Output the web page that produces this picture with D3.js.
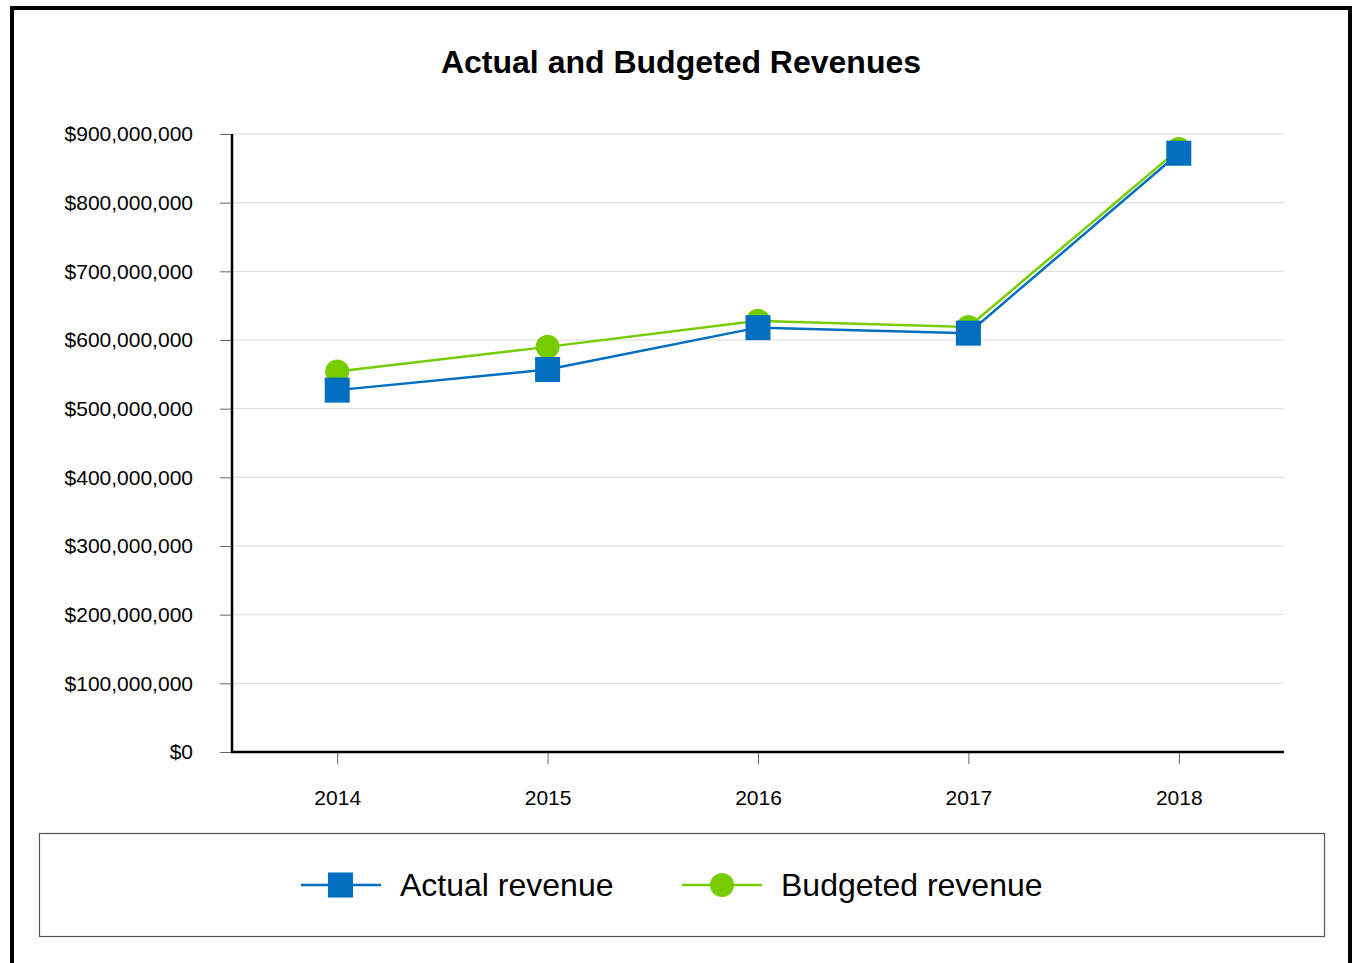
<!DOCTYPE html>
<html>
<head>
<meta charset="utf-8">
<script src="https://cdn.jsdelivr.net/npm/d3@7"></script>
<style>
  body { margin: 0; background: #fff; }
  svg { display: block; font-family: "Liberation Sans", Arial, sans-serif; }
</style>
</head>
<body>
<svg width="1353" height="963"></svg>
<script>
// data
const years = ["2014", "2015", "2016", "2017", "2018"];
const actualRevenue = [527000000, 557000000, 618000000, 610000000, 872000000];
const budgetedRevenue = [554000000, 590000000, 628000000, 619000000, 878000000];
const yTicks = [0, 100000000, 200000000, 300000000, 400000000, 500000000, 600000000, 700000000, 800000000, 900000000];
const seriesNames = ["Actual revenue", "Budgeted revenue"];

const blue = "#006fc0";
const green = "#77cc00";

const svg = d3.select("svg");

// outer frame
svg.append("rect")
    .attr("x", 12).attr("y", 8)
    .attr("width", 1338).attr("height", 980)
    .attr("fill", "none").attr("stroke", "#000").attr("stroke-width", 4);

// title
svg.append("text")
    .attr("x", 681).attr("y", 73)
    .attr("text-anchor", "middle")
    .style("font-size", "32px").style("font-weight", "bold")
    .text("Actual and Budgeted Revenues");

const plotLeft = 232, plotRight = 1284, plotTop = 134, plotBottom = 752;

const x = d3.scalePoint().domain(years).range([plotLeft, plotRight]).padding(0.5);
const y = d3.scaleLinear().domain([0, 900000000]).range([plotBottom, plotTop]);

// gridlines
svg.append("g")
    .selectAll("line")
    .data(yTicks.filter(d => d > 0))
    .join("line")
    .attr("x1", plotLeft).attr("x2", plotRight)
    .attr("y1", d => y(d)).attr("y2", d => y(d))
    .attr("stroke", "#d9d9d9").attr("stroke-width", 1);

// y axis
const fmt = d => "$" + d3.format(",")(d);
const yAxis = svg.append("g")
    .attr("transform", `translate(${plotLeft},0)`)
    .call(d3.axisLeft(y).tickValues(yTicks).tickFormat(fmt).tickSize(12).tickSizeOuter(0));
yAxis.select(".domain").remove();
yAxis.selectAll(".tick line").attr("stroke", "#666");
yAxis.selectAll(".tick text")
    .attr("x", -39)
    .style("font-size", "21px").style("font-family", "'Liberation Sans', Arial, sans-serif")
    .attr("fill", "#000");

// x axis
const xAxis = svg.append("g")
    .attr("transform", `translate(0,${plotBottom})`)
    .call(d3.axisBottom(x).tickSize(12).tickSizeOuter(0));
xAxis.select(".domain").remove();
xAxis.selectAll(".tick line").attr("stroke", "#666");
xAxis.selectAll(".tick text")
    .attr("y", 53).attr("dy", 0)
    .style("font-size", "21px").style("font-family", "'Liberation Sans', Arial, sans-serif")
    .attr("fill", "#000");

// axis lines
svg.append("line")
    .attr("x1", plotLeft).attr("x2", plotLeft).attr("y1", plotTop).attr("y2", plotBottom + 1)
    .attr("stroke", "#000").attr("stroke-width", 2.5);
svg.append("line")
    .attr("x1", plotLeft - 1).attr("x2", plotRight).attr("y1", plotBottom).attr("y2", plotBottom)
    .attr("stroke", "#000").attr("stroke-width", 2.5);

const line = d3.line().x((d, i) => x(years[i])).y(d => y(d));

// budgeted series (drawn first, underneath)
svg.append("path")
    .datum(budgetedRevenue)
    .attr("d", line)
    .attr("fill", "none").attr("stroke", green).attr("stroke-width", 2.5);
svg.append("g").selectAll("circle")
    .data(budgetedRevenue)
    .join("circle")
    .attr("cx", (d, i) => x(years[i])).attr("cy", d => y(d))
    .attr("r", 12).attr("fill", green);

// actual series
svg.append("path")
    .datum(actualRevenue)
    .attr("d", line)
    .attr("fill", "none").attr("stroke", blue).attr("stroke-width", 2.5);
svg.append("g").selectAll("rect")
    .data(actualRevenue)
    .join("rect")
    .attr("x", (d, i) => x(years[i]) - 12.5).attr("y", d => y(d) - 12.5)
    .attr("width", 25).attr("height", 25).attr("fill", blue);

// legend
svg.append("rect")
    .attr("x", 39.5).attr("y", 833.5).attr("width", 1285).attr("height", 103)
    .attr("fill", "none").attr("stroke", "#555").attr("stroke-width", 1.2);

const legend = svg.append("g");
const ly = 885;
// actual
legend.append("line").attr("x1", 301).attr("x2", 381).attr("y1", ly).attr("y2", ly)
    .attr("stroke", blue).attr("stroke-width", 2.5);
legend.append("rect").attr("x", 328).attr("y", ly - 12.5).attr("width", 25).attr("height", 25).attr("fill", blue);
legend.append("text").attr("x", 400).attr("y", ly + 11)
    .style("font-size", "32px").text(seriesNames[0]);
// budgeted
legend.append("line").attr("x1", 682).attr("x2", 762).attr("y1", ly).attr("y2", ly)
    .attr("stroke", green).attr("stroke-width", 2.5);
legend.append("circle").attr("cx", 722).attr("cy", ly).attr("r", 12).attr("fill", green);
legend.append("text").attr("x", 781).attr("y", ly + 11)
    .style("font-size", "32px").text(seriesNames[1]);
</script>
</body>
</html>
